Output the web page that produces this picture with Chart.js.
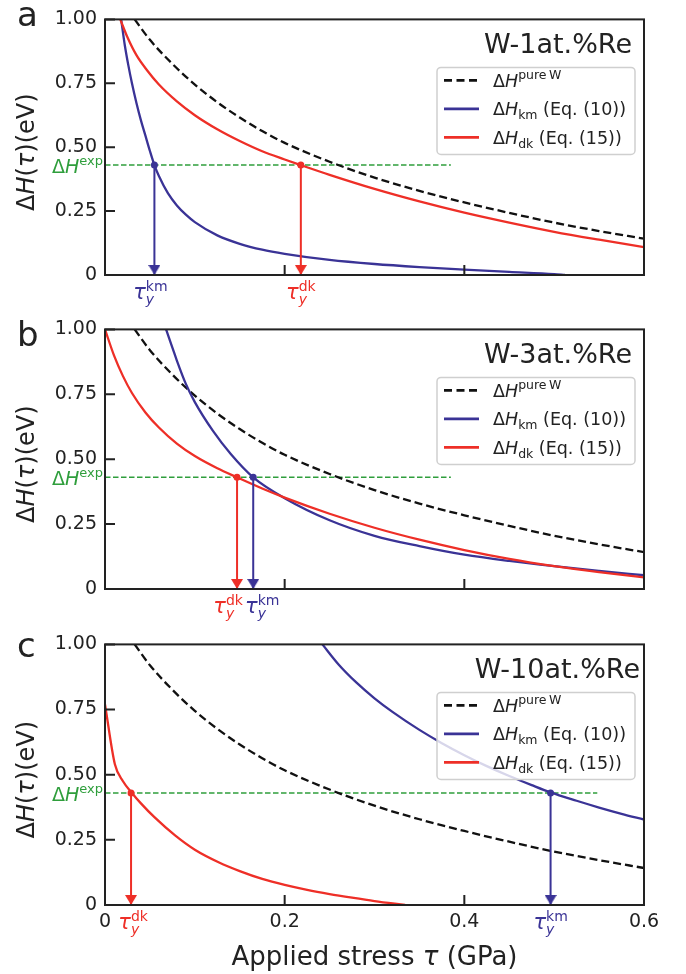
<!DOCTYPE html>
<html>
<head>
<meta charset="utf-8">
<script src="https://cdn.jsdelivr.net/npm/chart.js@4.4.0/dist/chart.umd.min.js"></script>
<style>
  html, body { margin: 0; padding: 0; background: #fff; }
  #wrap { position: relative; width: 686px; height: 974px; }
  canvas { position: absolute; left: 0; }
</style>
</head>
<body>
<div id="wrap">
  <canvas id="chartA" width="686" height="310" style="top:0px"></canvas>
  <canvas id="chartB" width="686" height="320" style="top:310px"></canvas>
  <canvas id="chartC" width="686" height="349" style="top:625px"></canvas>
</div>
<script>
// ---- data (tau in GPa, dH in eV) ----
const xTicks = [0, 0.2, 0.4, 0.6];
const yTicks = [0, 0.25, 0.5, 0.75, 1.0];

const pureTau = [0.033, 0.05, 0.075, 0.1, 0.125, 0.15, 0.175, 0.2, 0.25, 0.3, 0.35, 0.4, 0.45, 0.5, 0.55, 0.6];
const pureH   = [1.00, 0.92, 0.826, 0.745, 0.676, 0.616, 0.563, 0.517, 0.443, 0.381, 0.329, 0.284, 0.243, 0.205, 0.172, 0.142];

// W-1at.%Re
const kmTauA = [0.018, 0.022, 0.026, 0.03, 0.035, 0.04, 0.045, 0.05, 0.055, 0.06, 0.07, 0.08, 0.09, 0.1, 0.125, 0.15, 0.175, 0.2, 0.25, 0.3, 0.35, 0.4, 0.45, 0.5, 0.512];
const kmHA   = [1.0, 0.9, 0.82, 0.75, 0.673, 0.605, 0.545, 0.485, 0.43, 0.387, 0.32, 0.272, 0.236, 0.207, 0.155, 0.122, 0.099, 0.083, 0.059, 0.043, 0.031, 0.021, 0.012, 0.003, 0];
const dkTauA = [0.017, 0.025, 0.035, 0.047, 0.06, 0.08, 0.1, 0.125, 0.15, 0.175, 0.2, 0.218, 0.25, 0.3, 0.35, 0.4, 0.45, 0.5, 0.55, 0.6];
const dkHA   = [1.0, 0.93, 0.86, 0.8, 0.745, 0.679, 0.625, 0.57, 0.524, 0.484, 0.452, 0.43, 0.392, 0.337, 0.288, 0.244, 0.205, 0.169, 0.138, 0.109];

// W-3at.%Re
const kmTauB = [0.068, 0.075, 0.08, 0.09, 0.1, 0.12, 0.14, 0.165, 0.2, 0.25, 0.3, 0.35, 0.4, 0.45, 0.5, 0.55, 0.6];
const kmHB   = [1.0, 0.93, 0.88, 0.79, 0.72, 0.61, 0.52, 0.43, 0.35, 0.265, 0.205, 0.165, 0.132, 0.108, 0.088, 0.07, 0.053];
const dkTauB = [0, 0.01, 0.02, 0.03, 0.045, 0.06, 0.08, 0.1, 0.125, 0.147, 0.175, 0.2, 0.25, 0.3, 0.35, 0.4, 0.45, 0.5, 0.55, 0.6];
const dkHB   = [1.0, 0.9, 0.82, 0.755, 0.68, 0.622, 0.56, 0.512, 0.465, 0.43, 0.387, 0.352, 0.29, 0.236, 0.19, 0.15, 0.116, 0.088, 0.065, 0.045];

// W-10at.%Re
const kmTauC = [0.242, 0.26, 0.28, 0.3, 0.32, 0.35, 0.375, 0.4, 0.425, 0.45, 0.475, 0.496, 0.525, 0.55, 0.575, 0.6];
const kmHC   = [1.0, 0.923, 0.853, 0.793, 0.741, 0.672, 0.621, 0.575, 0.533, 0.495, 0.46, 0.432, 0.4, 0.374, 0.35, 0.328];
const dkTauC = [0, 0.011, 0.02, 0.03, 0.04, 0.055, 0.078, 0.1, 0.127, 0.15, 0.175, 0.2, 0.225, 0.25, 0.275, 0.3, 0.334];
const dkHC   = [0.77, 0.54, 0.475, 0.43, 0.39, 0.337, 0.267, 0.212, 0.163, 0.13, 0.1, 0.077, 0.058, 0.042, 0.028, 0.015, 0];

const hExp = 0.43;
const tauYkm = [0.055, 0.165, 0.496];
const tauYdk = [0.218, 0.147, 0.029];
const expLineEnd = [0.385, 0.385, 0.548];
const panelTitles = ['W-1at.%Re', 'W-3at.%Re', 'W-10at.%Re'];
const panelLetters = ['a', 'b', 'c'];

// ---- styles ----
const FONT = '"DejaVu Sans", sans-serif';
const RED = '#ee2f27';
const BLUE = '#3a3396';
const GREEN = '#2f9e3c';
const INK = '#222222';

const pts = (xs, ys) => xs.map((x, i) => ({ x: x, y: ys[i] }));

function arrowHead(color) {
  const c = document.createElement('canvas');
  c.width = 12; c.height = 22;
  const g = c.getContext('2d');
  g.fillStyle = color;
  g.beginPath(); g.moveTo(0, 1); g.lineTo(12, 1); g.lineTo(6, 11); g.closePath(); g.fill();
  return c; // tip sits at the centre, so it lands on the data point
}
const headRed = arrowHead(RED);
const headBlue = arrowHead(BLUE);

function setFont(ctx, size, italic) {
  ctx.font = (italic ? 'italic ' : '') + size + 'px ' + FONT;
}

// rich text: parts {t, s, it, dy, over}
function drawRich(ctx, parts, x, y, align) {
  const lay = [];
  let cx = 0, prevStart = 0;
  parts.forEach(p => {
    setFont(ctx, p.s, p.it);
    const w = ctx.measureText(p.t).width;
    const sx = p.over ? prevStart : cx;
    lay.push({ p: p, sx: sx });
    prevStart = sx;
    cx = Math.max(cx, sx + w);
  });
  const x0 = align === 'center' ? x - cx / 2 : align === 'right' ? x - cx : x;
  ctx.textAlign = 'left';
  ctx.textBaseline = 'alphabetic';
  lay.forEach(l => {
    setFont(ctx, l.p.s, l.p.it);
    ctx.fillText(l.p.t, x0 + l.sx, y + (l.p.dy || 0));
  });
}

function tauLabel(sup) {
  return [
    { t: 'τ', s: 21, it: true },
    { t: 'y', s: 14, it: true, dy: 5 },
    { t: sup, s: 14, dy: -8, over: true }
  ];
}

const panelPlugin = {
  id: 'panel',
  afterDatasetsDraw(chart) {
    const o = chart.options.plugins.panel;
    const ctx = chart.ctx;
    const a = chart.chartArea;
    const xs = chart.scales.x, ys = chart.scales.y;
    ctx.save();

    // frame + inward ticks
    ctx.strokeStyle = INK;
    ctx.lineWidth = 2;
    ctx.strokeRect(a.left, a.top, a.right - a.left, a.bottom - a.top);
    ctx.beginPath();
    yTicks.forEach(v => {
      const py = ys.getPixelForValue(v);
      ctx.moveTo(a.left, py); ctx.lineTo(a.left + 10, py);
    });
    xTicks.forEach(v => {
      const px = xs.getPixelForValue(v);
      ctx.moveTo(px, a.bottom); ctx.lineTo(px, a.bottom - 10);
    });
    ctx.stroke();

    // panel letter and title
    ctx.fillStyle = INK;
    setFont(ctx, 34, false);
    ctx.textAlign = 'left';
    ctx.fillText(o.letter, 17, o.letterY);
    setFont(ctx, 27, false);
    ctx.textAlign = 'right';
    ctx.fillText(o.title, o.titleRight, a.top + 34);

    // legend
    const bw = 198, bh = 87;
    const bx = a.right - 9 - bw, by = a.top + 48;
    ctx.beginPath();
    ctx.roundRect(bx, by, bw, bh, 4);
    ctx.fillStyle = 'rgba(255,255,255,0.8)';
    ctx.fill();
    ctx.strokeStyle = '#cfcfcf';
    ctx.lineWidth = 1.5;
    ctx.stroke();
    const rows = [
      { c: '#111', dash: [8, 4.5], parts: [{ t: 'Δ', s: 17.5 }, { t: 'H', s: 17.5, it: true }, { t: 'pure\u2009W', s: 12.5, dy: -8 }] },
      { c: BLUE, dash: [], parts: [{ t: 'Δ', s: 17.5 }, { t: 'H', s: 17.5, it: true }, { t: 'km', s: 12.5, dy: 4 }, { t: ' (Eq. (10))', s: 17.5 }] },
      { c: RED, dash: [], parts: [{ t: 'Δ', s: 17.5 }, { t: 'H', s: 17.5, it: true }, { t: 'dk', s: 12.5, dy: 4 }, { t: ' (Eq. (15))', s: 17.5 }] }
    ];
    rows.forEach((r, i) => {
      const ry = by + 13 + i * 28.5;
      ctx.strokeStyle = r.c;
      ctx.lineWidth = 2.6;
      ctx.setLineDash(r.dash);
      ctx.beginPath(); ctx.moveTo(bx + 7, ry); ctx.lineTo(bx + 42, ry); ctx.stroke();
      ctx.setLineDash([]);
      ctx.fillStyle = INK;
      drawRich(ctx, r.parts, bx + 56, ry + 6.5, 'left');
    });

    // dH_exp label
    ctx.fillStyle = GREEN;
    drawRich(ctx, [{ t: 'Δ', s: 19 }, { t: 'H', s: 19, it: true }, { t: 'exp', s: 13, dy: -8 }],
      a.left - 2, ys.getPixelForValue(hExp) + 8, 'right');

    // tau_y labels under the axis
    ctx.fillStyle = BLUE;
    drawRich(ctx, tauLabel('km'), xs.getPixelForValue(o.km) + o.kmDx, a.bottom + 24, 'center');
    ctx.fillStyle = RED;
    drawRich(ctx, tauLabel('dk'), xs.getPixelForValue(o.dk) + o.dkDx, a.bottom + 24, 'center');

    // y title
    ctx.fillStyle = INK;
    ctx.save();
    ctx.translate(34, (a.top + a.bottom) / 2 + 5);
    ctx.rotate(-Math.PI / 2);
    drawRich(ctx, [{ t: 'Δ', s: 24 }, { t: 'H', s: 24, it: true }, { t: '(', s: 24 }, { t: 'τ', s: 24, it: true }, { t: ')(eV)', s: 24 }], 0, 0, 'center');
    ctx.restore();

    // x title
    if (o.xTitle) {
      drawRich(ctx, [{ t: 'Applied stress ', s: 26 }, { t: 'τ', s: 26, it: true }, { t: ' (GPa)', s: 26 }],
        (a.left + a.right) / 2, a.bottom + 60, 'center');
    }
    ctx.restore();
  }
};

function makePanel(id, i, kmT, kmH, dkT, dkH, cfg) {
  const datasets = [
    { data: [{ x: tauYkm[i], y: hExp }, { x: tauYkm[i], y: 0 }], borderColor: BLUE, borderWidth: 2,
      pointStyle: ['circle', headBlue], pointRadius: [3.5, 5], pointBackgroundColor: BLUE, pointBorderWidth: 0,
      tension: 0, clip: false, order: 0 },
    { data: [{ x: tauYdk[i], y: hExp }, { x: tauYdk[i], y: 0 }], borderColor: RED, borderWidth: 2,
      pointStyle: ['circle', headRed], pointRadius: [3.5, 5], pointBackgroundColor: RED, pointBorderWidth: 0,
      tension: 0, clip: false, order: 0 },
    { data: pts(dkT, dkH), borderColor: RED, borderWidth: 2.3, pointRadius: 0, cubicInterpolationMode: 'monotone', order: 1 },
    { data: pts(kmT, kmH), borderColor: BLUE, borderWidth: 2.3, pointRadius: 0, cubicInterpolationMode: 'monotone', order: 2 },
    { data: pts(pureTau, pureH), borderColor: '#111', borderWidth: 2.3, borderDash: [8, 4], pointRadius: 0, cubicInterpolationMode: 'monotone', order: 3 },
    { data: [{ x: 0, y: hExp }, { x: expLineEnd[i], y: hExp }], borderColor: GREEN, borderWidth: 1.5, borderDash: [5.5, 2.5], pointRadius: 0, order: 4 }
  ];
  return new Chart(document.getElementById(id), {
    type: 'line',
    data: { datasets: datasets },
    plugins: [panelPlugin],
    options: {
      responsive: false,
      animation: false,
      events: [],
      layout: { padding: { top: cfg.padTop, right: 42, left: 0, bottom: 0 } },
      plugins: {
        legend: { display: false },
        tooltip: { enabled: false },
        panel: {
          letter: panelLetters[i], letterY: cfg.letterY, title: panelTitles[i], titleRight: cfg.titleRight,
          km: tauYkm[i], dk: tauYdk[i], kmDx: cfg.kmDx, dkDx: cfg.dkDx, xTitle: cfg.xTitle
        }
      },
      scales: {
        x: {
          type: 'linear', min: 0, max: 0.6,
          afterBuildTicks: s => { s.ticks = xTicks.map(v => ({ value: v })); },
          ticks: { display: cfg.xLabels, font: { size: 19, family: FONT }, color: INK, padding: 6, maxRotation: 0, autoSkip: false,
                   callback: v => v === 0 ? '0' : v.toFixed(1) },
          grid: { display: false, drawTicks: false },
          border: { display: false },
          afterFit: s => { s.height = cfg.xHeight; }
        },
        y: {
          type: 'linear', min: 0, max: 1,
          afterBuildTicks: s => { s.ticks = yTicks.map(v => ({ value: v })); },
          ticks: { font: { size: 19, family: FONT }, color: INK, padding: 8, autoSkip: false,
                   callback: v => v === 0 ? '0' : v.toFixed(2) },
          grid: { display: false, drawTicks: false },
          border: { display: false },
          afterFit: s => { s.width = 105; }
        }
      }
    }
  });
}

makePanel('chartA', 0, kmTauA, kmHA, dkTauA, dkHA,
  { padTop: 13, xHeight: 35, letterY: 26, titleRight: 632, kmDx: -4, dkDx: 0, xLabels: false, xTitle: false });
makePanel('chartB', 1, kmTauB, kmHB, dkTauB, dkHB,
  { padTop: 18, xHeight: 41, letterY: 36, titleRight: 632, kmDx: 9, dkDx: -9, xLabels: false, xTitle: false });
makePanel('chartC', 2, kmTauC, kmHC, dkTauC, dkHC,
  { padTop: 18, xHeight: 69, letterY: 32, titleRight: 640, kmDx: 0, dkDx: 2, xLabels: true, xTitle: true });
</script>
</body>
</html>
